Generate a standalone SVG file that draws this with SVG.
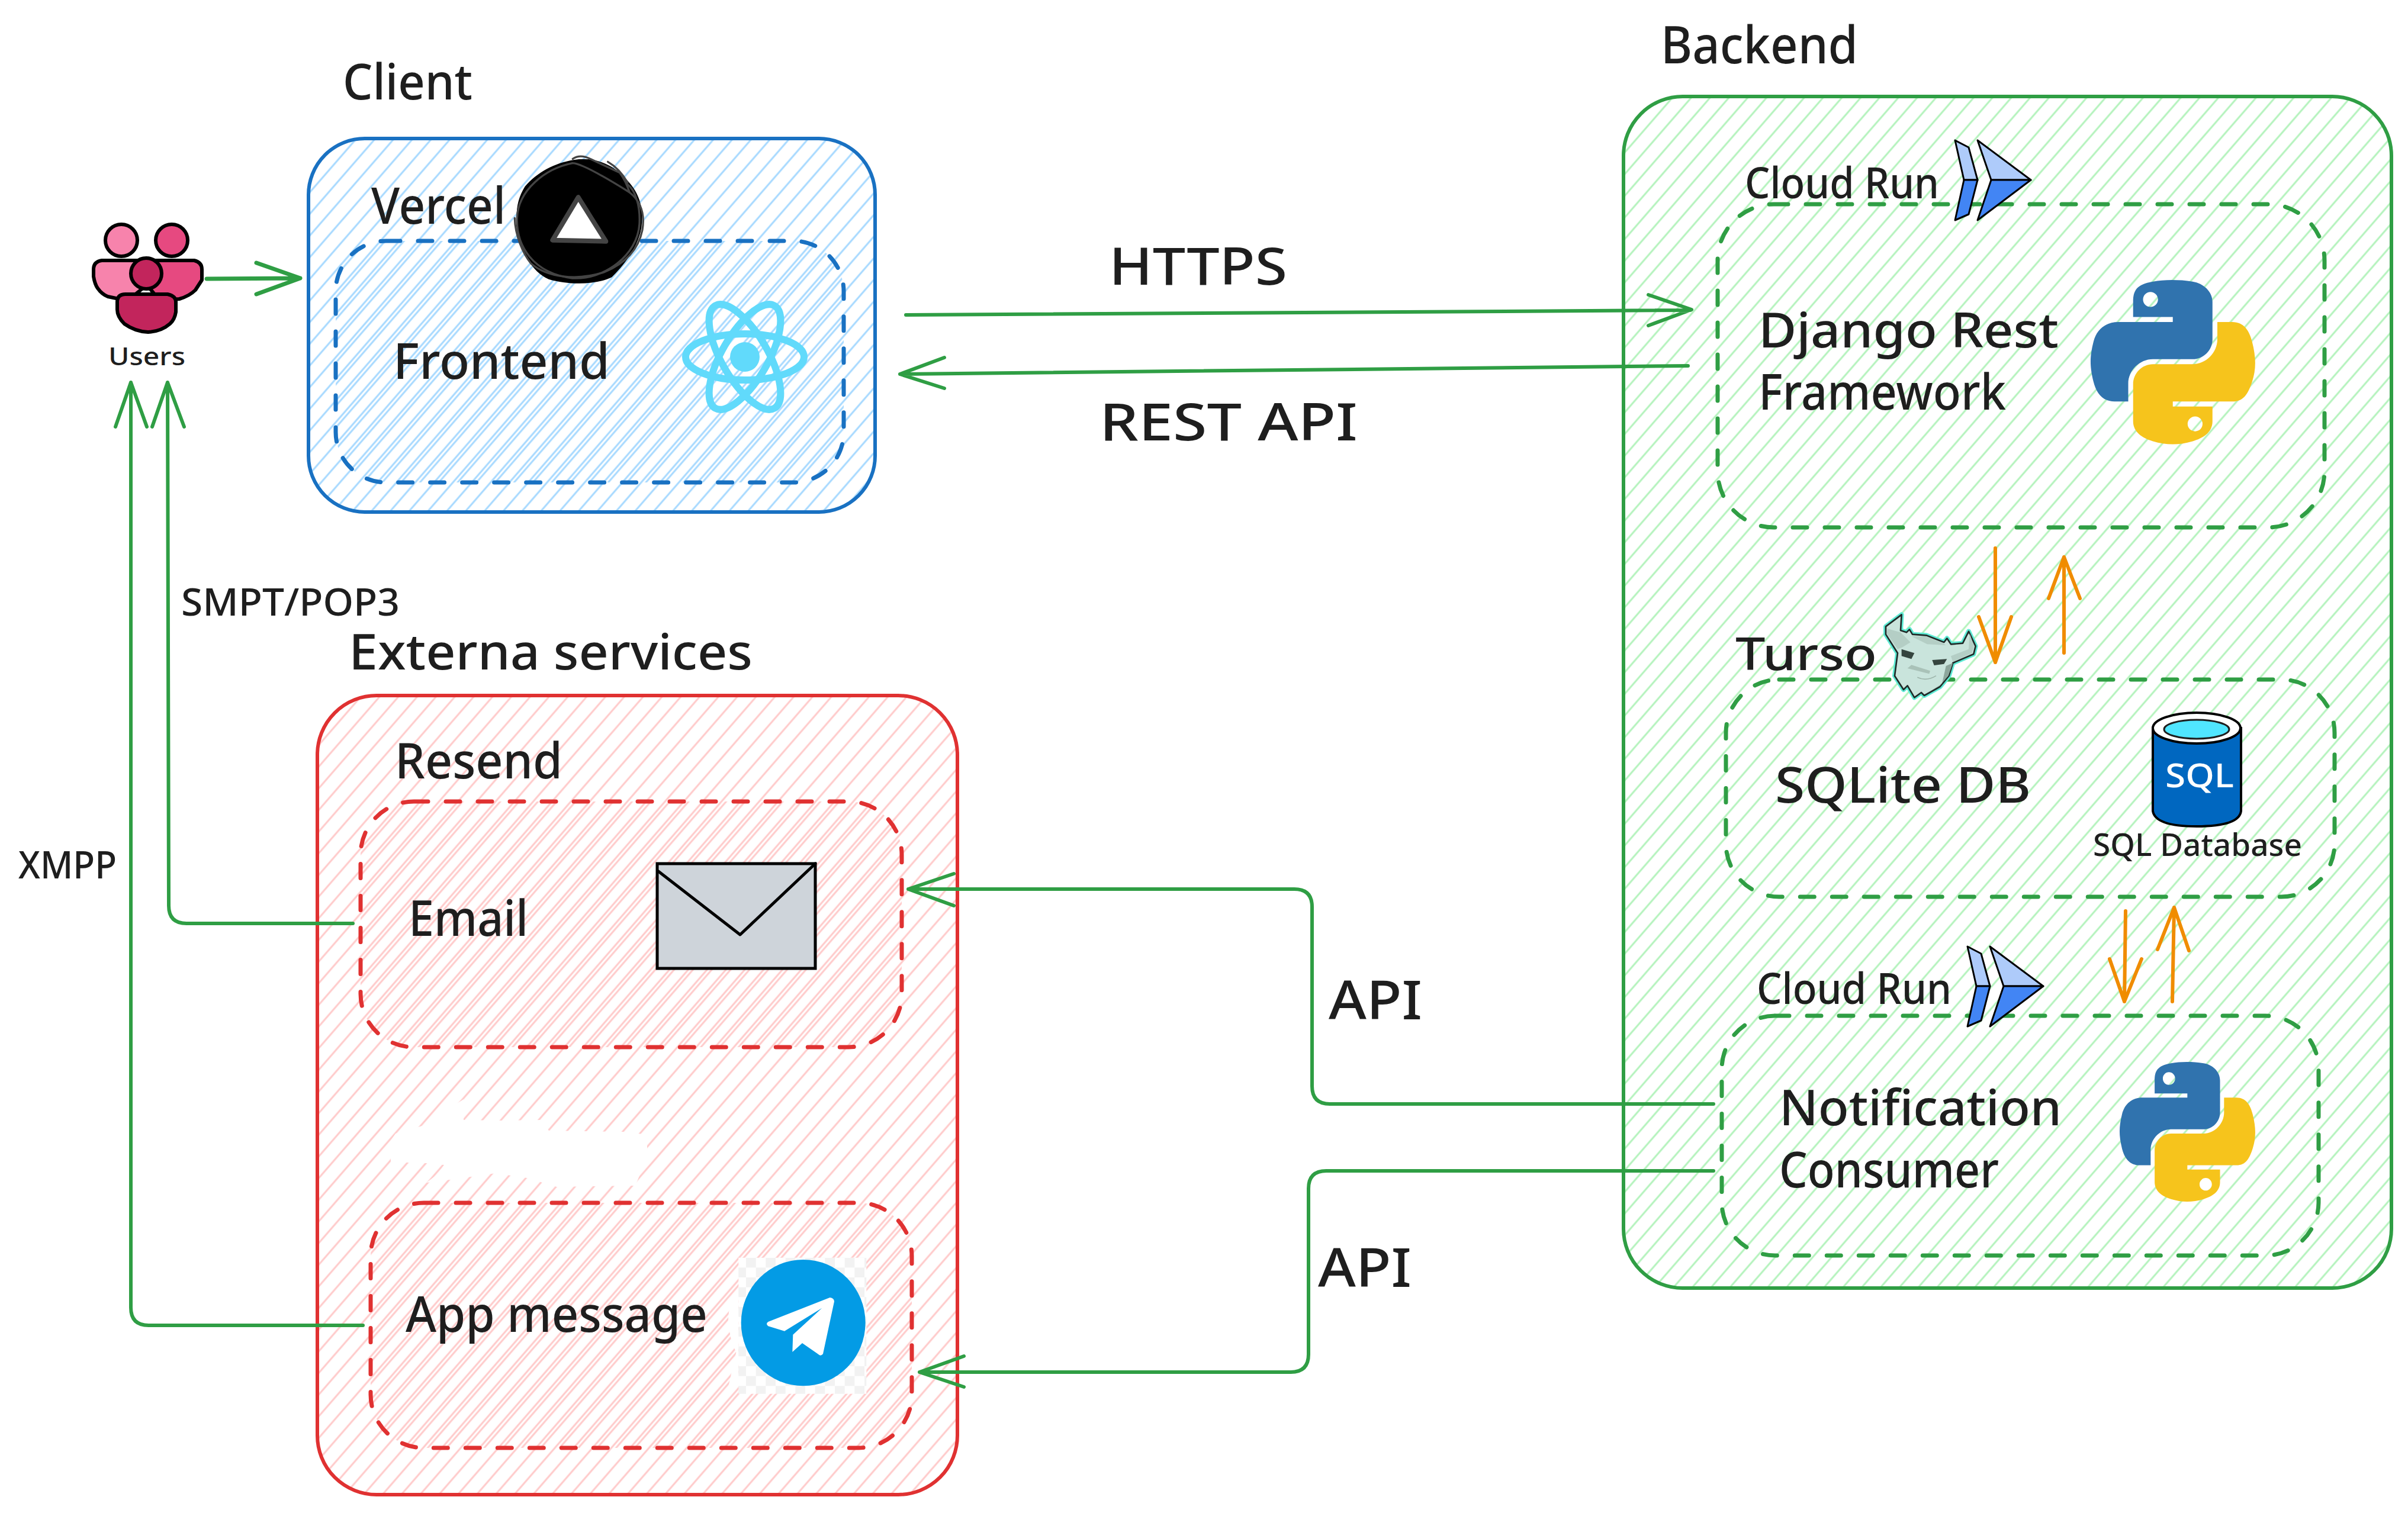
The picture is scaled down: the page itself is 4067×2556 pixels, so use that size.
<svg xmlns="http://www.w3.org/2000/svg" width="4067" height="2556" viewBox="0 0 4067 2556">
<defs>
<style>
.t{font-family:"Noto Sans","Liberation Sans",sans-serif;fill:#1e1e1e;font-weight:500}
.o{stroke-width:6;}
.d{stroke-width:7;stroke-dasharray:24 30;stroke-linecap:round}
.b{stroke:#1971c2}.g{stroke:#2f9e44}.r{stroke:#e03131}
.c{fill:none;stroke:#2f9e44;stroke-width:6;stroke-linecap:round;stroke-linejoin:round}
.or{fill:none;stroke:#f08c00;stroke-width:6;stroke-linecap:round;stroke-linejoin:round}
.ou{stroke:#000;stroke-width:6;stroke-linejoin:round}
</style>
<pattern id="hb" width="24" height="24" patternUnits="userSpaceOnUse" patternTransform="rotate(41)"><line x1="8" y1="0" x2="8" y2="24" stroke="#a5d8ff" stroke-width="3"/></pattern>
<pattern id="hg" width="24" height="24" patternUnits="userSpaceOnUse" patternTransform="rotate(41)"><line x1="8" y1="0" x2="8" y2="24" stroke="#b2f2bb" stroke-width="3"/></pattern>
<pattern id="hr" width="24" height="24" patternUnits="userSpaceOnUse" patternTransform="rotate(41)"><line x1="8" y1="0" x2="8" y2="24" stroke="#ffc9c9" stroke-width="3"/></pattern>
<pattern id="hb2" width="24" height="24" patternUnits="userSpaceOnUse" patternTransform="rotate(41)"><line x1="14" y1="0" x2="14" y2="24" stroke="#a5d8ff" stroke-width="3"/></pattern>
<pattern id="hr2" width="24" height="24" patternUnits="userSpaceOnUse" patternTransform="rotate(41)"><line x1="14" y1="0" x2="14" y2="24" stroke="#ffc9c9" stroke-width="3"/></pattern>
<pattern id="chk" width="100" height="100" patternUnits="userSpaceOnUse"><rect width="100" height="100" fill="#fff"/><rect width="50" height="50" fill="#f2f2f2"/><rect x="50" y="50" width="50" height="50" fill="#f2f2f2"/></pattern>
<g id="py">
<path fill="#3073ae" d="M54.9,0C50.3,0 46,0.4 42.1,1.1C30.8,3.1 28.7,7.3 28.7,15L28.7,25.3L55.5,25.3L55.5,28.7L18.6,28.7C10.8,28.7 4,33.3 1.9,42.3C-0.6,52.5 -0.7,58.8 1.9,69.5C3.8,77.4 8.3,83.1 16.1,83.1L25.4,83.1L25.4,70.8C25.4,62 33,54.2 42.1,54.2L68.9,54.2C76.3,54.2 82.3,48 82.3,40.6L82.3,15C82.3,7.8 76.2,2.3 68.9,1.1C64.3,0.3 59.5,0 54.9,0ZM40.4,8.2C43.2,8.2 45.5,10.5 45.5,13.3C45.5,16.2 43.2,18.4 40.4,18.4C37.6,18.4 35.4,16.2 35.4,13.3C35.4,10.5 37.6,8.2 40.4,8.2Z"/>
<path fill="#f6c41c" d="M85.6,28.7L85.6,40.6C85.6,49.8 77.8,57.6 68.9,57.6L42.1,57.6C34.8,57.6 28.7,63.8 28.7,71.2L28.7,96.7C28.7,104 35,108.3 42.1,110.3C50.6,112.8 58.7,113.3 68.9,110.3C75.6,108.4 82.3,104.5 82.3,96.7L82.3,86.5L55.5,86.5L55.5,83.1L95.7,83.1C103.5,83.1 106.4,77.7 109.1,69.5C111.9,61.1 111.8,53 109.1,42.3C107.2,34.5 103.5,28.7 95.7,28.7ZM70.6,93.3C73.4,93.3 75.6,95.6 75.6,98.4C75.6,101.2 73.4,103.5 70.6,103.5C67.8,103.5 65.5,101.2 65.5,98.4C65.5,95.6 67.8,93.3 70.6,93.3Z"/>
</g>
<g id="run">
<path fill="#aecbfa" stroke="#000" stroke-width="3" stroke-linejoin="round" d="M3302,237L3325,249L3340,304L3317,304Z"/>
<path fill="#4285f4" stroke="#000" stroke-width="3" stroke-linejoin="round" d="M3317,304L3340,304L3325,362L3302,372Z"/>
<path fill="#aecbfa" stroke="#000" stroke-width="3" stroke-linejoin="round" d="M3340,237L3430,304L3363,304Z"/>
<path fill="#4285f4" stroke="#000" stroke-width="3" stroke-linejoin="round" d="M3363,304L3430,304L3340,372Z"/>
</g>
</defs>

<rect width="4067" height="2556" fill="#fff"/>

<g id="client">
<text class="t" x="579" y="168" font-size="84" textLength="219" lengthAdjust="spacingAndGlyphs">Client</text>
<rect class="o b" x="521" y="234" width="957" height="631" rx="95" fill="url(#hb)"/>
<text class="t" x="627" y="378" font-size="86" textLength="227" lengthAdjust="spacingAndGlyphs">Vercel</text>
<rect class="d b" x="567" y="407" width="858" height="408" rx="85" fill="url(#hb2)"/>
<text class="t" x="664" y="640" font-size="84" textLength="366" lengthAdjust="spacingAndGlyphs">Frontend</text>
</g>

<g id="vercel-icon" transform="translate(860,255) scale(.3333)">
<path fill="#000" d="M330,45C420,30 520,60 590,140C670,220 680,300 670,390C650,500 570,590 520,640C440,680 300,680 200,650C110,610 70,510 50,440C30,340 30,260 80,180C140,110 230,60 330,45Z"/>
<g fill="none" stroke="#444" stroke-width="10" stroke-linecap="round">
<path d="M320,62C180,90 45,200 40,340C35,480 120,620 320,645C480,655 650,530 660,370C665,280 640,200 600,170"/>
<path d="M320,62Q370,60 610,210C660,250 690,310 675,400C655,500 590,570 480,615C340,660 190,640 110,570C70,520 30,430 28,340"/>
<path d="M322,40Q360,15 410,40L560,110Q590,150 610,210M500,55Q560,90 600,160"/>
</g>
<path d="M350,235L220,452L490,458Z" fill="#fff" stroke="#444" stroke-width="24" stroke-linejoin="round"/>
</g>

<g id="react-icon" fill="none" stroke="#61dafb" stroke-width="12">
<ellipse cx="1258" cy="603" rx="100" ry="39"/>
<ellipse cx="1258" cy="603" rx="100" ry="39" transform="rotate(60 1258 603)"/>
<ellipse cx="1258" cy="603" rx="100" ry="39" transform="rotate(-60 1258 603)"/>
<circle cx="1258" cy="603" r="25" fill="#61dafb" stroke="none"/>
</g>

<g id="users">
<circle class="ou" cx="205" cy="406" r="27" fill="#f783ac"/>
<circle class="ou" cx="290" cy="406" r="27" fill="#e64980"/>
<path class="ou" fill="#f783ac" d="M247,440L172,440Q158,442 158,455L158,467Q160,480 165,487Q172,497 182,501L215,508L250,480Z"/>
<path class="ou" fill="#e64980" d="M247,440L328,440Q341,443 341,455L341,473L330,490Q320,500 303,505L270,508L247,480Z"/>
<circle cx="247" cy="462" r="26" fill="#c2255c" stroke="#000" stroke-width="6"/>
<path class="ou" fill="#c2255c" d="M198,510Q198,497 212,497L283,497Q297,500 297,510L297,527Q295,540 287,547Q272,560 250,561Q228,560 210,547Q198,535 198,523Z"/>
<text class="t" x="183" y="617" font-size="42" textLength="130" lengthAdjust="spacingAndGlyphs">Users</text>
</g>

<g id="backend">
<text class="t" x="2805" y="107" font-size="88" textLength="333" lengthAdjust="spacingAndGlyphs">Backend</text>
<rect class="o g" x="2742" y="163" width="1297" height="2013" rx="100" fill="url(#hg)"/>
</g>

<g id="django">
<rect class="d g" x="2901" y="345" width="1025" height="546" rx="95" fill="none"/>
<text class="t" x="2947" y="335" font-size="72" textLength="328" lengthAdjust="spacingAndGlyphs">Cloud Run</text>
<use href="#run"/>
<text class="t" x="2970" y="587" font-size="82" textLength="507" lengthAdjust="spacingAndGlyphs">Django Rest</text>
<text class="t" x="2970" y="692" font-size="84" textLength="418" lengthAdjust="spacingAndGlyphs">Framework</text>
<use href="#py" transform="translate(3531,473) scale(2.5,2.47)"/>
</g>

<g id="turso">
<rect class="d g" x="2915" y="1148" width="1028" height="367" rx="90" fill="none"/>
<text class="t" x="2931" y="1132" font-size="76" textLength="239" lengthAdjust="spacingAndGlyphs">Turso</text>
<g transform="translate(3170,1025) scale(.3333)" stroke-linejoin="round">
<path d="M125,40L120,120L150,130L165,115L180,140L250,145L340,180L355,160L375,190L435,185L465,125L500,200L490,240L385,285L365,350L320,405L240,450L225,435L190,460L155,400L135,420L90,350L105,235L45,140L45,100Z" fill="#c9e4dc" stroke="#5eead4" stroke-width="24"/>
<path d="M125,40L120,120L150,130L165,115L180,140L250,145L340,180L355,160L375,190L435,185L465,125L500,200L490,240L385,285L365,350L320,405L240,450L225,435L190,460L155,400L135,420L90,350L105,235L45,140L45,100Z" fill="#c9e4dc" stroke="#1f2a28" stroke-width="8"/>
<path d="M55,112L120,130L170,180L130,205L105,215L50,135ZM175,150L250,150L335,185L350,195L255,190ZM470,135L492,200L482,235L385,280L375,250L465,215Z" fill="#b4cec5"/>
<path d="M385,285L362,350L318,400L245,445L330,390L350,300Z" fill="#8ca69c"/>
<path d="M125,215L190,235L175,265L125,250ZM280,270L355,265L340,290L290,297Z" fill="#35453f"/>
<path d="M155,312L175,295L270,325L265,340Z" fill="#a9c2b8"/>
<path d="M205,358Q250,380 300,350" fill="none" stroke="#9db5ab" stroke-width="5"/>
</g>
<text class="t" x="2998" y="1356" font-size="84" textLength="432" lengthAdjust="spacingAndGlyphs">SQLite DB</text>
<path d="M3636,1230L3636,1370Q3640,1396 3710,1396Q3782,1396 3785,1370L3785,1230Z" fill="#0067c0" stroke="#000" stroke-width="4"/>
<ellipse cx="3710" cy="1230" rx="74" ry="26" fill="#fff" stroke="#000" stroke-width="4"/>
<ellipse cx="3710" cy="1232" rx="55" ry="16" fill="#50e6ff" stroke="#1e1e1e" stroke-width="3"/>
<text class="t" x="3657" y="1330" font-size="56" textLength="116" lengthAdjust="spacingAndGlyphs" style="fill:#fff">SQL</text>
<text class="t" x="3535" y="1446" font-size="52" textLength="353" lengthAdjust="spacingAndGlyphs">SQL Database</text>
</g>

<g id="notification">
<rect class="d g" x="2908" y="1716" width="1008" height="405" rx="90" fill="none"/>
<text class="t" x="2967" y="1696" font-size="72" textLength="329" lengthAdjust="spacingAndGlyphs">Cloud Run</text>
<use href="#run" transform="translate(21,1362)"/>
<text class="t" x="3005" y="1901" font-size="84" textLength="477" lengthAdjust="spacingAndGlyphs">Notification</text>
<text class="t" x="3005" y="2006" font-size="84" textLength="371" lengthAdjust="spacingAndGlyphs">Consumer</text>
<use href="#py" transform="translate(3580,1794) scale(2.06,2.1)"/>
</g>

<g id="external">
<text class="t" x="589" y="1131" font-size="84" textLength="682" lengthAdjust="spacingAndGlyphs">Externa services</text>
<rect class="o r" x="536" y="1175" width="1081" height="1350" rx="100" fill="url(#hr)"/>
<text class="t" x="667" y="1315" font-size="84" textLength="283" lengthAdjust="spacingAndGlyphs">Resend</text>
<path d="M713,1902L783,1857L783,1892L847,1893L913,1892L927,1910L1055,1912L1093,1917L1093,1955L1073,2003L940,2005L890,1990L837,1982L760,1993L720,1998L740,1983L750,1968L720,1965L660,1963L660,1927L668,1915Z" fill="#fff"/>
</g>

<g id="email">
<rect class="d r" x="609" y="1354" width="914" height="415" rx="90" fill="url(#hr2)"/>
<text class="t" x="690" y="1581" font-size="84" textLength="202" lengthAdjust="spacingAndGlyphs">Email</text>
<rect x="1110" y="1459" width="267" height="177" fill="#ced4da" stroke="#000" stroke-width="5"/>
<path d="M1112,1472L1250,1579L1377,1459" fill="none" stroke="#000" stroke-width="5" stroke-linecap="round" stroke-linejoin="round"/>
</g>

<g id="app">
<rect class="d r" x="626" y="2032" width="914" height="414" rx="90" fill="url(#hr2)"/>
<text class="t" x="685" y="2250" font-size="84" textLength="510" lengthAdjust="spacingAndGlyphs">App message</text>
<g transform="translate(1210,2108) scale(.3333)">
<path d="M112,205Q60,280 60,370Q65,460 100,530L60,705L112,692Z" fill="#fff"/>
<rect x="112" y="50" width="648" height="690" fill="url(#chk)"/>
<ellipse cx="440" cy="380" rx="315" ry="320" fill="#039be5"/>
<path d="M575,252Q597,255 597,272L540,538Q530,550 520,542L435,483L385,528L388,440L535,305L345,422L262,397Q248,385 262,375Z" fill="#fff"/>
</g>
</g>

<g id="connectors">
<path class="c" style="stroke-width:7" d="M349,471L507,470M433,444L507,470L433,497"/>
<path class="c" d="M1530,532L2855,524M2784,498L2857,523L2784,550"/>
<path class="c" d="M2851,618L1520,632M1595,604L1520,632L1595,656"/>
<path class="c" d="M596,1560L315,1560Q285,1560 285,1530L283,646M257,721L283,646L311,721"/>
<path class="c" d="M613,2239L251,2239Q221,2239 221,2209L221,646M195,721L221,646L248,721"/>
<path class="c" d="M2894,1865L2246,1865Q2216,1865 2216,1835L2216,1532Q2216,1502 2186,1502L1534,1502M1611,1476L1534,1502L1611,1530"/>
<path class="c" d="M2894,1978L2240,1978Q2210,1978 2210,2008L2210,2288Q2210,2318 2180,2318L1553,2318M1628,2291L1553,2318L1628,2343"/>
<path class="or" d="M3370,926L3370,1119M3342,1042L3370,1119L3397,1042"/>
<path class="or" d="M3486,1103L3486,941M3460,1011L3486,941L3513,1011"/>
<path class="or" d="M3590,1539L3588,1692M3563,1620L3588,1692L3617,1620"/>
<path class="or" d="M3669,1692L3672,1533M3644,1604L3672,1533L3697,1606"/>
</g>

<g id="labels">
<text class="t" x="1873" y="481" font-size="88" textLength="301" lengthAdjust="spacingAndGlyphs">HTTPS</text>
<text class="t" x="1857" y="744" font-size="88" textLength="436" lengthAdjust="spacingAndGlyphs">REST API</text>
<text class="t" x="306" y="1040" font-size="64" textLength="369" lengthAdjust="spacingAndGlyphs">SMPT/POP3</text>
<text class="t" x="31" y="1484" font-size="64" textLength="166" lengthAdjust="spacingAndGlyphs">XMPP</text>
<text class="t" x="2244" y="1722" font-size="90" textLength="158" lengthAdjust="spacingAndGlyphs">API</text>
<text class="t" x="2226" y="2174" font-size="90" textLength="158" lengthAdjust="spacingAndGlyphs">API</text>
</g>
</svg>
